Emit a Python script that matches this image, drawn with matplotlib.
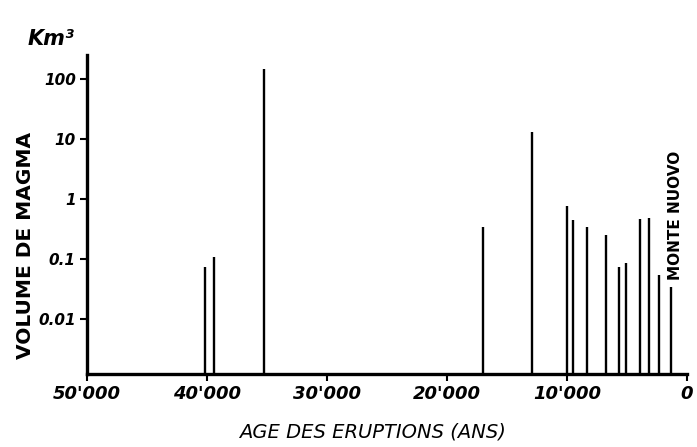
import matplotlib
matplotlib.use("Agg")
import matplotlib.pyplot as plt

# Eruption ages (years before present) and magma volumes (km3)
ages = [40200, 39400, 35250, 17000, 12950, 10000, 9500, 8300,
        6750, 5670, 5100, 3900, 3200, 2350, 1350]
volumes = [0.073, 0.109, 150, 0.34, 13.2, 0.76, 0.45, 0.34,
           0.25, 0.073, 0.085, 0.46, 0.48, 0.055, 0.034]

x_ticks = [50000, 40000, 30000, 20000, 10000, 0]
x_labels = ["50'000", "40'000", "30'000", "20'000", "10'000", "0"]
y_ticks = [100, 10, 1, 0.1, 0.01]
y_labels = ["100", "10", "1", "0.1", "0.01"]

y_low, y_high = 0.00119, 254

fig = plt.figure(figsize=(6.97, 4.47), dpi=100)
ax = fig.add_axes([0.1248, 0.1626, 0.8609, 0.7143])

ax.vlines(ages, y_low, volumes, color="black", linewidth=1.7)

ax.set_yscale("log")
ax.set_xlim(50000, 0)
ax.set_ylim(y_low, y_high)

for side in ["top", "right"]:
    ax.spines[side].set_visible(False)
for side in ["left", "bottom"]:
    ax.spines[side].set_linewidth(2.4)

ax.set_xticks(x_ticks)
ax.set_xticklabels(x_labels, fontsize=13, fontstyle="italic", fontweight="bold")
ax.set_yticks(y_ticks)
ax.set_yticklabels(y_labels, fontsize=11, fontstyle="italic", fontweight="bold")
ax.minorticks_off()
ax.tick_params(axis="both", direction="out", length=5, width=1.5, pad=3)
ax.tick_params(axis="x", pad=3)

ax.set_xlabel("AGE DES ERUPTIONS (ANS)", fontsize=14, fontstyle="italic", va="center")
ax.xaxis.set_label_coords(0.475, -0.18)
ax.set_ylabel("VOLUME DE MAGMA", fontsize=14.5, fontweight="bold", va="center")
ax.yaxis.set_label_coords(-0.103, 0.405)

# Monte Nuovo annotation above the most recent bar
ax.text(1000, volumes[-1] * 1.3, "MONTE NUOVO", rotation=90, ha="center", va="bottom",
        fontsize=11, fontweight="bold")

fig.text(0.04, 0.9, "Km³", fontsize=15, fontweight="bold", fontstyle="italic")

fig.savefig("out.png", dpi=100)
